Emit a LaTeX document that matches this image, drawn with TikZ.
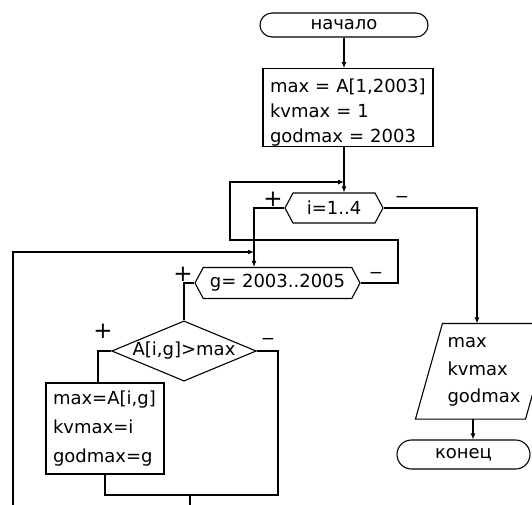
\documentclass[tikz,border=0pt]{standalone}
\usepackage{fontspec}
\setmainfont{DejaVu Sans}
\usetikzlibrary{shapes.geometric,shapes.misc,shapes.symbols,arrows.meta}

\begin{document}
\begin{tikzpicture}[x=1pt, y=-1pt, line width=1.1pt, >={Latex[length=6pt,width=5pt]},
    font=\fontsize{18}{25}\selectfont]
    \tikzset{termnode/.style={rounded rectangle, draw, minimum width=168pt, minimum height=24pt, inner sep=0pt}}
    \tikzset{actnode/.style={rectangle, draw, align=left, inner xsep=7pt, inner ysep=0pt}}
    \tikzset{loopnode/.style={signal, signal to=west and east, signal pointer angle=124, draw, minimum height=30pt, inner sep=0pt}}
    \tikzset{condnode/.style={diamond, draw, aspect=2.4, minimum width=140pt, minimum height=58pt, inner sep=0pt}}
    \tikzset{sign/.style={inner sep=0pt, font=\fontsize{23}{23}\selectfont}}
    \useasboundingbox (0,0) rectangle (532,504);
    \clip (0,0) rectangle (532,504);

    % BLOCKS
    \node[termnode] (start) at (344,25) {начало};
    \node[actnode, minimum width=170pt, minimum height=75pt, text width=156pt] (init) at (348,107.5) {\rule{0pt}{24pt}max = A[1,2003]\\kvmax = 1\\godmax = 2003};
    \node[loopnode, minimum width=98pt] (iloop) at (334,208) {i=1..4};
    \node[loopnode, minimum width=165pt, minimum height=31pt] (gloop) at (277.5,283) {g= 2003..2005};
    \node[condnode] (cond) at (184,351) {A[i,g]>max};
    \node[actnode, minimum width=118pt, minimum height=91pt, text width=104pt] (upd) at (105,428.5) {max=A[i,g]\\[4pt]kvmax=i\\[4pt]godmax=g};
    \node[actnode, draw=none, minimum width=109pt, minimum height=93pt, text width=73pt, inner xsep=18pt] (out) at (484,372) {max\\[2.5pt]kvmax\\[2.5pt]godmax};
    \draw ([xshift=13.5pt,yshift=1.5pt]out.north west) -- ([xshift=13.5pt,yshift=1.5pt]out.north east) -- ([xshift=-13.5pt]out.south east) -- ([xshift=-13.5pt]out.south west) -- cycle;
    \node[termnode, minimum width=133pt, minimum height=29pt] (fin) at (463.5,454.5) {конец};

    % SIGNS
    \node[sign] (pi) at (273,199) {+};
    \node[sign, font=\fontsize{17}{17}\selectfont] (mi) at (402,199) {−};
    \node[sign] (pg) at (183,274) {+};
    \node[sign, font=\fontsize{17}{17}\selectfont] (mg) at (376,275) {−};
    \node[sign] (pc) at (103,331) {+};
    \node[sign, font=\fontsize{17}{17}\selectfont] (mc) at (268,341) {−};

    % JOINS
    \coordinate (jI) at (344,182);
    \coordinate (jG) at (254,252);
    \coordinate (jC) at (190,495);
    \coordinate (rI) at (398,240);
    \coordinate (lI) at (230,182);
    \coordinate (rC) at (278,495);
    \coordinate (lowC) at (190,510);
    \coordinate (lowL) at (13,510);

    % EDGES
    \draw[->] (start.south) -- (start.south |- init.north);
    \draw[->] (init.south -| jI) -- (iloop.north -| jI);
    \draw[->] (gloop.east) -| (rI) -| (lI) -- (jI);
    \draw[->] (iloop.west) -| (gloop.north -| jG);
    \draw[->] (iloop.east) -| ([xshift=-7pt,yshift=1.5pt]out.north);
    \draw[->] ([xshift=-11pt]out.south) -- ([xshift=-11pt]out.south |- fin.north);
    \draw (gloop.west) -| (cond.north);
    \draw (cond.west) -| ([xshift=-7pt]upd.north);
    \draw (cond.east) -| (rC) -- (jC);
    \draw (upd.south) |- (jC);
    \draw (jC) -- (lowC);
    \draw[->] (lowL) |- (jG);
\end{tikzpicture}
\end{document}
